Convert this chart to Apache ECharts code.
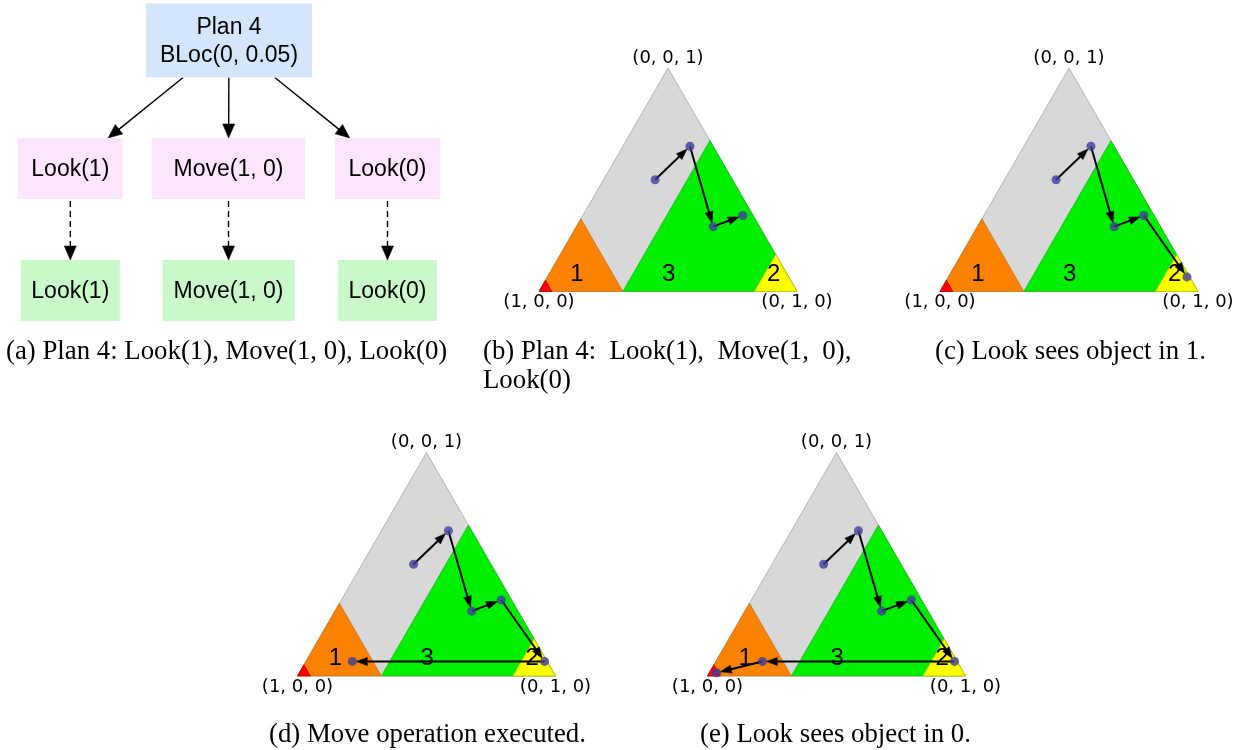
<!DOCTYPE html>
<html>
<head>
<meta charset="utf-8">
<script src="https://cdn.jsdelivr.net/npm/echarts@6/dist/echarts.min.js"></script>
<style>
  html, body { margin: 0; padding: 0; background: #ffffff; }
  #chart { width: 1244px; height: 750px; }
</style>
</head>
<body>
<div id="chart"></div>
<script>
// ---- plan tree text ----
const planLabel = ['Plan 4', 'BLoc(0, 0.05)'];
const actionLabels = ['Look(1)', 'Move(1, 0)', 'Look(0)'];

// ---- simplex corners (barycentric); the printed labels come from these ----
const simplexCorners = [[1, 0, 0], [0, 1, 0], [0, 0, 1]];

// ---- belief regions, barycentric polygons painted in this order ----
const regionKeys = ['unsure', 'in3', 'in1', 'in2', 'in0'];
const regionVertices = [
  [[1, 0, 0], [0, 1, 0], [0, 0, 1]],
  [[0.675, 0.325, 0], [0, 1, 0], [0, 0.325, 0.675]],
  [[1, 0, 0], [0.675, 0.325, 0], [0.675, 0, 0.325]],
  [[0.165, 0.835, 0], [0, 1, 0], [0, 0.835, 0.165]],
  [[1, 0, 0], [0.95, 0.05, 0], [0.95, 0, 0.05]]
];
const regionNumbers = ['1', '3', '2'];
const regionNumberAnchors = [[0.814, 0.108, 0.078], [0.459, 0.464, 0.077], [0.052, 0.871, 0.077]];

// ---- belief trajectory (barycentric) and how many steps each panel shows ----
const beliefPath = [
  [0.30, 0.20, 0.50],
  [0.09, 0.26, 0.65],
  [0.18, 0.53, 0.29],
  [0.04, 0.62, 0.34],
  [0.01, 0.925, 0.065],
  [0.755, 0.18, 0.065],
  [0.958, 0.028, 0.014]
];
const stepsShown = [4, 5, 6, 7];

// ---- captions ----
const captions = [
  '(a) Plan 4: Look(1), Move(1, 0), Look(0)',
  '(b) Plan 4:  Look(1),  Move(1,  0),\nLook(0)',
  '(c) Look sees object in 1.',
  '(d) Move operation executed.',
  '(e) Look sees object in 0.'
];

// ================= layout & style =================
const SQ3 = Math.sqrt(3) / 2;
const SIDE = 258;
const panelBoxes = [
  { left: 539, top: 68 },
  { left: 940, top: 68 },
  { left: 297.5, top: 452.5 },
  { left: 707.5, top: 452.5 }
];
const regionFill = ['#d8d8d8', '#00ef00', '#fb8100', '#ffff00', '#ff0000'];
const regionEdge = ['#a9a9a9', '#1fb51f', '#c77326', '#c8c800', '#c00000'];
const captionPos = [
  { left: 6, top: 337 }, { left: 483, top: 337 }, { left: 935, top: 337 },
  { left: 269, top: 720.5 }, { left: 700, top: 720.5 }
];

// tree geometry (pixel units of the tree grid)
const treeCols = [70.3, 228.5, 387.5];
const treeRoot = { cx: 229, cy: 40.5, w: 166, h: 74 };
const treeRows = [168.5, 290.5];
const treeRowH = 61;
const treeRowW = [[105, 153, 105], [99, 132, 99]];
const treeFill = { plan: '#d3e6fc', planned: '#fde6fd', executed: '#c9f9c9' };

const toXY = p => [p[1] + p[2] / 2, p[2] * SQ3];

// tree nodes & edges
const treeNodes = [{ id: 'root', text: planLabel.join('\n'), kind: 'plan', box: treeRoot }];
actionLabels.forEach((t, i) => treeNodes.push({
  id: 'p' + i, text: t, kind: 'planned',
  box: { cx: treeCols[i], cy: treeRows[0], w: treeRowW[0][i], h: treeRowH }
}));
actionLabels.forEach((t, i) => treeNodes.push({
  id: 'x' + i, text: t, kind: 'executed',
  box: { cx: treeCols[i], cy: treeRows[1], w: treeRowW[1][i], h: treeRowH }
}));
const nodeById = {};
treeNodes.forEach(n => { nodeById[n.id] = n; });
const treeEdges = [];
actionLabels.forEach((t, i) => treeEdges.push({ from: 'root', to: 'p' + i, dashed: false }));
actionLabels.forEach((t, i) => treeEdges.push({ from: 'p' + i, to: 'x' + i, dashed: true }));

// arrow: shaft + filled head, tip pulled back by tipGap
function arrowEls(p1, p2, o) {
  const dx = p2[0] - p1[0], dy = p2[1] - p1[1];
  const L = Math.hypot(dx, dy) || 1;
  const ux = dx / L, uy = dy / L, nx = -uy, ny = ux;
  const s = [p1[0] + ux * (o.startGap || 0), p1[1] + uy * (o.startGap || 0)];
  const tip = [p2[0] - ux * (o.tipGap || 0), p2[1] - uy * (o.tipGap || 0)];
  const base = [tip[0] - ux * o.headLen, tip[1] - uy * o.headLen];
  const shaftEnd = [base[0] + ux * 1, base[1] + uy * 1];
  return [
    {
      type: 'line',
      shape: { x1: s[0], y1: s[1], x2: shaftEnd[0], y2: shaftEnd[1] },
      style: { stroke: '#000', lineWidth: o.width, lineDash: o.dash || null, fill: null }
    },
    {
      type: 'polygon',
      shape: { points: [tip, [base[0] + nx * o.headHalf, base[1] + ny * o.headHalf], [base[0] - nx * o.headHalf, base[1] - ny * o.headHalf]] },
      style: { fill: '#000', stroke: '#000', lineWidth: 0.5 }
    }
  ];
}

// point where the ray from the box centre towards (dx,dy) leaves the box
function boxExit(b, dx, dy) {
  const t = Math.min(dx === 0 ? Infinity : (b.w / 2) / Math.abs(dx), dy === 0 ? Infinity : (b.h / 2) / Math.abs(dy));
  return [b.cx + dx * t, b.cy + dy * t];
}

const grids = [{ left: 0, top: 0, width: 460, height: 330 }];
const xAxes = [{ type: 'value', min: 0, max: 460, show: false, gridIndex: 0 }];
const yAxes = [{ type: 'value', min: 0, max: 330, inverse: true, show: false, gridIndex: 0 }];
panelBoxes.forEach((p, k) => {
  grids.push({ left: p.left, top: p.top, width: SIDE, height: SIDE * SQ3 });
  xAxes.push({ type: 'value', min: 0, max: 1, show: false, gridIndex: k + 1 });
  yAxes.push({ type: 'value', min: 0, max: SQ3, show: false, gridIndex: k + 1 });
});

const series = [];

// tree edges
series.push({
  type: 'custom', coordinateSystem: 'cartesian2d', xAxisIndex: 0, yAxisIndex: 0, z: 2, silent: true,
  data: treeEdges.map(e => [nodeById[e.from].box.cx, nodeById[e.from].box.cy]),
  renderItem: (params, api) => {
    const e = treeEdges[params.dataIndex];
    const a = nodeById[e.from].box, b = nodeById[e.to].box;
    const dx = b.cx - a.cx, dy = b.cy - a.cy;
    const s = boxExit(a, dx, dy), t = boxExit(b, -dx, -dy);
    const p1 = api.coord(s), p2 = api.coord(t);
    return {
      type: 'group',
      children: arrowEls(p1, p2, { width: 1.4, headLen: 14, headHalf: 6, dash: e.dashed ? [6, 4] : null, startGap: e.dashed ? 2 : 0 })
    };
  }
});

// tree nodes
series.push({
  type: 'custom', coordinateSystem: 'cartesian2d', xAxisIndex: 0, yAxisIndex: 0, z: 3, silent: true,
  data: treeNodes.map(n => [n.box.cx, n.box.cy]),
  renderItem: (params, api) => {
    const n = treeNodes[params.dataIndex];
    const c = api.coord([n.box.cx, n.box.cy]);
    return {
      type: 'group',
      children: [
        { type: 'rect', shape: { x: c[0] - n.box.w / 2, y: c[1] - n.box.h / 2, width: n.box.w, height: n.box.h }, style: { fill: treeFill[n.kind] } },
        { type: 'text', style: { text: n.text, x: c[0], y: c[1] + 1, align: 'center', verticalAlign: 'middle', font: '23px "Liberation Sans", Arial, sans-serif', lineHeight: 28, fill: '#000' } }
      ]
    };
  }
});

// simplex panels
stepsShown.forEach((steps, k) => {
  const ax = k + 1;
  // regions
  series.push({
    type: 'custom', coordinateSystem: 'cartesian2d', xAxisIndex: ax, yAxisIndex: ax, z: 1, silent: true,
    data: regionVertices.map(v => toXY(v[0])),
    renderItem: (params, api) => {
      const i = params.dataIndex;
      return {
        type: 'polygon',
        shape: { points: regionVertices[i].map(p => api.coord(toXY(p))) },
        style: { fill: regionFill[i], stroke: regionEdge[i], lineWidth: 0.8 }
      };
    }
  });
  // region numbers
  series.push({
    type: 'custom', coordinateSystem: 'cartesian2d', xAxisIndex: ax, yAxisIndex: ax, z: 2, silent: true,
    data: regionNumberAnchors.map(toXY),
    renderItem: (params, api) => {
      const c = api.coord(toXY(regionNumberAnchors[params.dataIndex]));
      return { type: 'text', style: { text: regionNumbers[params.dataIndex], x: c[0], y: c[1], align: 'center', verticalAlign: 'middle', font: '24px "Liberation Sans", Arial, sans-serif', fill: '#000' } };
    }
  });
  // corner labels
  series.push({
    type: 'custom', coordinateSystem: 'cartesian2d', xAxisIndex: ax, yAxisIndex: ax, z: 2, silent: true,
    data: simplexCorners.map(toXY),
    renderItem: (params, api) => {
      const p = simplexCorners[params.dataIndex];
      const c = api.coord(toXY(p));
      const isTop = p[2] === 1;
      return {
        type: 'text',
        style: {
          text: '(' + p.join(', ') + ')', x: c[0], y: isTop ? c[1] - 10 : c[1] + 11,
          align: 'center', verticalAlign: 'middle',
          font: '18px "DejaVu Sans", sans-serif', fill: '#000'
        }
      };
    }
  });
  // trajectory arrows
  const shown = beliefPath.slice(0, steps);
  series.push({
    type: 'custom', coordinateSystem: 'cartesian2d', xAxisIndex: ax, yAxisIndex: ax, z: 3, silent: true,
    data: shown.slice(0, -1).map(toXY),
    renderItem: (params, api) => {
      const i = params.dataIndex;
      const p1 = api.coord(toXY(shown[i])), p2 = api.coord(toXY(shown[i + 1]));
      return { type: 'group', children: arrowEls(p1, p2, { width: 2, headLen: 11, headHalf: 4, tipGap: 4 }) };
    }
  });
  // belief points
  series.push({
    type: 'scatter', xAxisIndex: ax, yAxisIndex: ax, z: 4, silent: true,
    symbol: 'circle', symbolSize: 9,
    itemStyle: { color: '#3d3d9b' },
    data: shown.map(toXY)
  });
});

const option = {
  animation: false,
  backgroundColor: '#ffffff',
  title: captions.map((t, i) => ({
    text: t, left: captionPos[i].left, top: captionPos[i].top, padding: 0,
    textStyle: { fontFamily: '"Liberation Serif", "Times New Roman", serif', fontWeight: 'normal', fontSize: 26.8, lineHeight: 29, color: '#000' }
  })),
  grid: grids,
  xAxis: xAxes,
  yAxis: yAxes,
  series: series
};

const chart = echarts.init(document.getElementById('chart'), null, { renderer: 'canvas' });
chart.setOption(option);
</script>
</body>
</html>
